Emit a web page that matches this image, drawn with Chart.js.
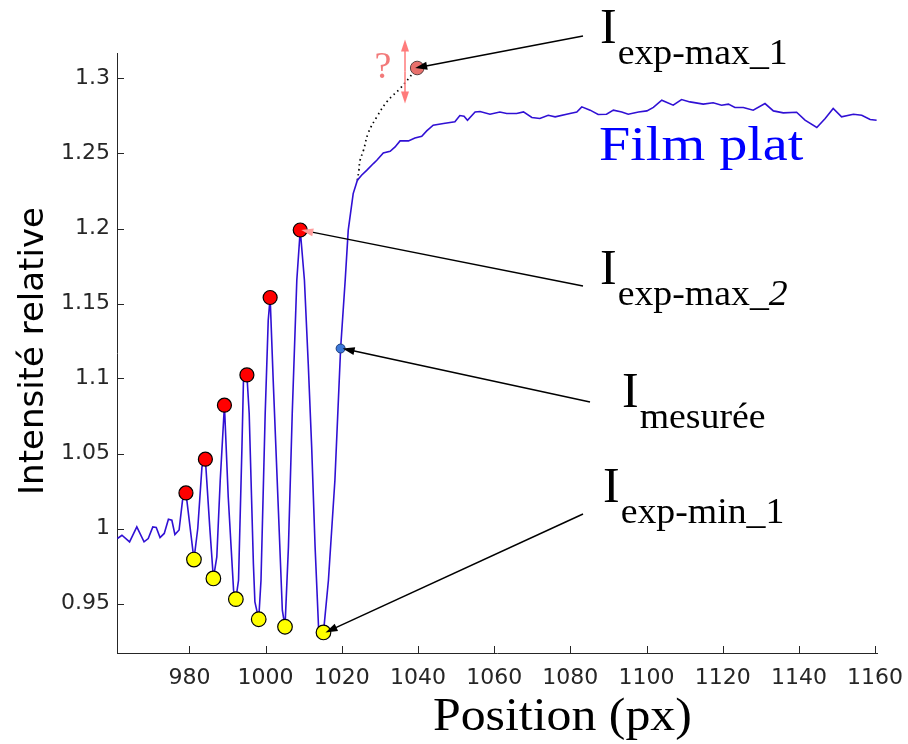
<!DOCTYPE html>
<html>
<head>
<meta charset="utf-8">
<script src="https://cdn.jsdelivr.net/npm/chart.js@4.4.1/dist/chart.umd.min.js"></script>
<style>
  html, body { margin: 0; padding: 0; background: #fff; }
</style>
</head>
<body>
<canvas id="chart" width="908" height="744"></canvas>
<script>
// measured intensity profile (position in px, relative intensity)
const profileX = [
  961.1, 962.3, 964.3, 966.2, 968.1, 969.2, 970.4, 971.3, 972.3, 973.4,
  974.5, 975.4, 976.2, 977.3, 978.2, 979.1, 981.2, 982.2, 983.3, 984.2,
  985.4, 986.3, 987.2, 988.1, 989.2, 990.2, 991.6, 992.2, 992.9, 993.8,
  994.2, 995.1, 995.7, 996.8, 997.2, 998.2, 998.8, 999.9, 1000.7, 1001.2,
  1002.0, 1003.4, 1004.4, 1005.1, 1006.0, 1007.0, 1008.2, 1009.1, 1010.2, 1011.2,
  1012.1, 1013.0, 1013.9, 1015.2, 1016.5, 1018.2, 1019.7, 1020.9, 1021.7, 1023.0,
  1024.1, 1025.2, 1026.6, 1028.3, 1029.2, 1030.9, 1032.7, 1034.0, 1035.3, 1037.5,
  1039.2, 1041.0, 1042.3, 1044.0, 1046.7, 1049.7, 1051.0, 1052.1, 1053.0, 1055.0,
  1056.3, 1058.9, 1061.5, 1063.3, 1065.9, 1067.7, 1069.9, 1072.0, 1074.2, 1076.0,
  1079.9, 1081.7, 1083.0, 1085.2, 1087.3, 1089.5, 1091.3, 1093.5, 1095.2, 1097.9,
  1100.1, 1101.8, 1104.0, 1107.0, 1109.2, 1111.4, 1114.9, 1117.5, 1119.7, 1121.5,
  1123.2, 1125.4, 1128.0, 1131.1, 1133.3, 1135.9, 1139.4, 1141.6, 1144.7, 1146.9,
  1149.0, 1151.2, 1154.3, 1156.5, 1158.7, 1160.4
];
const profileY = [
  0.9933, 0.9955, 0.9911, 1.0011, 0.9911, 0.9933, 1.0011, 1.0007, 0.9940, 0.9967,
  1.0062, 1.0055, 0.9960, 0.9990, 1.0188, 1.0237, 0.9793, 1.0000, 1.0410, 1.0462,
  0.9989, 0.9667, 0.9810, 1.0322, 1.0822, 1.0210, 0.9589, 0.9529, 0.9655, 1.0544,
  1.0989, 1.1024, 1.0767, 0.9767, 0.9510, 0.9395, 0.9655, 1.0767, 1.1389, 1.1540,
  1.0989, 1.0100, 0.9455, 0.9345, 0.9877, 1.0767, 1.1655, 1.1990, 1.1655, 1.1100,
  1.0544, 0.9877, 0.9345, 0.9307, 0.9655, 1.0322, 1.1200, 1.1655, 1.1989, 1.2233,
  1.2322, 1.2355, 1.2389, 1.2433, 1.2455, 1.2504, 1.2515, 1.2544, 1.2584, 1.2584,
  1.2604, 1.2615, 1.2651, 1.2689, 1.2700, 1.2711, 1.2753, 1.2749, 1.2722, 1.2777,
  1.2780, 1.2762, 1.2777, 1.2767, 1.2767, 1.2777, 1.2740, 1.2733, 1.2755, 1.2744,
  1.2767, 1.2777, 1.2811, 1.2789, 1.2760, 1.2762, 1.2789, 1.2777, 1.2762, 1.2777,
  1.2784, 1.2807, 1.2855, 1.2822, 1.2860, 1.2844, 1.2829, 1.2838, 1.2822, 1.2829,
  1.2807, 1.2807, 1.2789, 1.2833, 1.2784, 1.2771, 1.2775, 1.2722, 1.2673, 1.2733,
  1.2800, 1.2744, 1.2762, 1.2755, 1.2727, 1.2722
];

// fringe maxima (red) and minima (yellow)
const maxX = [979.1, 984.2, 989.2, 995.1, 1001.2, 1009.1];
const maxY = [1.0237, 1.0462, 1.0822, 1.1024, 1.1540, 1.1990];
const minX = [981.2, 986.3, 992.2, 998.2, 1005.1, 1015.2];
const minY = [0.9793, 0.9667, 0.9529, 0.9395, 0.9345, 0.9307];

// measured point and extrapolated first maximum
const measuredX = [1019.7];
const measuredY = [1.1200];
const extrapX = [1039.8];
const extrapY = [1.3070];

// dotted extrapolation towards the first maximum
const guessX = [1024.1, 1024.5, 1024.8, 1025.7, 1027.0, 1029.2, 1032.0, 1035.3, 1039.8];
const guessY = [1.2321, 1.2389, 1.2455, 1.2521, 1.2640, 1.2744, 1.2850, 1.2933, 1.3070];

// uncertainty arrow (x, y from, y to)
const doubtX = 1036.6;
const doubtY = [1.3260, 1.2833];

const xTicks = [980, 1000, 1020, 1040, 1060, 1080, 1100, 1120, 1140, 1160];
const yTicks = [0.95, 1, 1.05, 1.1, 1.15, 1.2, 1.25, 1.3];

const toPoints = (xs, ys) => xs.map((v, i) => ({ x: v, y: ys[i] }));

const AXIS = '#262626';
const SERIF = '"Liberation Serif", "DejaVu Serif", serif';

function arrow(ctx, x0, y0, x1, y1, lineColor, headColor, width) {
  const a = Math.atan2(y1 - y0, x1 - x0);
  const len = 12, half = 4;
  ctx.strokeStyle = lineColor;
  ctx.lineWidth = width || 1.5;
  ctx.beginPath();
  ctx.moveTo(x0, y0);
  ctx.lineTo(x1 - Math.cos(a) * len * 0.7, y1 - Math.sin(a) * len * 0.7);
  ctx.stroke();
  ctx.fillStyle = headColor;
  ctx.beginPath();
  ctx.moveTo(x1, y1);
  ctx.lineTo(x1 - len * Math.cos(a) + half * Math.sin(a), y1 - len * Math.sin(a) - half * Math.cos(a));
  ctx.lineTo(x1 - len * Math.cos(a) - half * Math.sin(a), y1 - len * Math.sin(a) + half * Math.cos(a));
  ctx.closePath();
  ctx.fill();
}

// the figure uses a wide garamond-like face; stretch Liberation Serif a bit
function wideText(ctx, text, x, y, stretch) {
  ctx.save();
  ctx.translate(x, y);
  ctx.scale(stretch, 1);
  ctx.fillText(text, 0, 0);
  const w = ctx.measureText(text).width * stretch;
  ctx.restore();
  return w;
}

// "I" with a subscript, like the LaTeX labels of the figure
function intensityLabel(ctx, x, base, parts) {
  ctx.fillStyle = '#000';
  ctx.textAlign = 'left';
  ctx.textBaseline = 'alphabetic';
  ctx.font = '50px ' + SERIF;
  ctx.fillText('I', x, base);
  let sx = x + ctx.measureText('I').width + 1;
  parts.forEach(p => {
    ctx.font = (p.italic ? 'italic ' : '') + '35px ' + SERIF;
    sx += wideText(ctx, p.text, sx, base + 21, 1.08);
  });
}

const annotations = {
  id: 'annotations',
  afterDatasetsDraw(chart) {
    const { ctx, scales: { x, y } } = chart;
    ctx.save();

    // inward tick marks, matlab style
    ctx.strokeStyle = AXIS;
    ctx.lineWidth = 1;
    xTicks.forEach(v => {
      const px = Math.round(x.getPixelForValue(v)) + 0.5;
      ctx.beginPath();
      ctx.moveTo(px, y.bottom);
      ctx.lineTo(px, y.bottom - 7);
      ctx.stroke();
    });
    yTicks.forEach(v => {
      const py = Math.round(y.getPixelForValue(v)) + 0.5;
      ctx.beginPath();
      ctx.moveTo(x.left, py);
      ctx.lineTo(x.left + 7, py);
      ctx.stroke();
    });

    // uncertainty on the first maximum
    const dx = x.getPixelForValue(doubtX);
    const dTop = y.getPixelForValue(doubtY[0]);
    const dBot = y.getPixelForValue(doubtY[1]);
    const mid = (dTop + dBot) / 2;
    arrow(ctx, dx, mid, dx, dTop, '#ff7b7b', '#ff7b7b', 1.5);
    arrow(ctx, dx, mid, dx, dBot, '#ff7b7b', '#ff7b7b', 1.5);
    ctx.fillStyle = '#f27a7a';
    ctx.font = '38px ' + SERIF;
    ctx.textAlign = 'center';
    ctx.textBaseline = 'alphabetic';
    ctx.fillText('?', dx - 22, 78);

    // pointers to the marked values
    arrow(ctx, 583, 36, x.getPixelForValue(extrapX[0]) - 2, y.getPixelForValue(extrapY[0]), '#000', '#000');
    arrow(ctx, 583, 286, x.getPixelForValue(maxX[5]) + 1, y.getPixelForValue(maxY[5]), '#000', '#ff9d9d');
    arrow(ctx, 590, 402, x.getPixelForValue(measuredX[0]) + 2, y.getPixelForValue(measuredY[0]), '#000', '#000');
    arrow(ctx, 583, 514, x.getPixelForValue(minX[5]) + 2, y.getPixelForValue(minY[5]), '#000', '#000');

    intensityLabel(ctx, 600, 43, [{ text: 'exp-max_1' }]);
    intensityLabel(ctx, 600, 284, [{ text: 'exp-max_' }, { text: '2', italic: true }]);
    intensityLabel(ctx, 622, 407, [{ text: 'mesurée' }]);
    intensityLabel(ctx, 603, 502, [{ text: 'exp-min_1' }]);

    ctx.fillStyle = '#0000ff';
    ctx.font = '48px ' + SERIF;
    ctx.textAlign = 'left';
    wideText(ctx, 'Film plat', 599, 160, 1.17);

    // axis titles
    ctx.fillStyle = '#000';
    ctx.font = '47px ' + SERIF;
    ctx.textAlign = 'left';
    wideText(ctx, 'Position (px)', 433, 730, 1.06);

    ctx.save();
    ctx.translate(43, 351);
    ctx.rotate(-Math.PI / 2);
    ctx.fillStyle = '#000';
    ctx.font = '34px "DejaVu Sans", sans-serif';
    ctx.textAlign = 'center';
    ctx.textBaseline = 'alphabetic';
    ctx.fillText('Intensité relative', 0, 0);
    ctx.restore();

    ctx.restore();
  }
};

new Chart(document.getElementById('chart'), {
  type: 'line',
  data: {
    datasets: [
      {
        label: 'I mesurée',
        data: toPoints(measuredX, measuredY),
        showLine: false,
        pointRadius: 4.5,
        pointBackgroundColor: '#3c78d8',
        pointBorderColor: '#1c3c7c',
        pointBorderWidth: 1
      },
      {
        label: 'maxima',
        data: toPoints(maxX, maxY),
        showLine: false,
        pointRadius: 7,
        pointBackgroundColor: '#ff0000',
        pointBorderColor: '#000',
        pointBorderWidth: 1.2
      },
      {
        label: 'minima',
        data: toPoints(minX, minY),
        showLine: false,
        pointRadius: 7.3,
        pointBackgroundColor: '#ffff00',
        pointBorderColor: '#000',
        pointBorderWidth: 1.2
      },
      {
        label: 'I exp-max_1',
        data: toPoints(extrapX, extrapY),
        showLine: false,
        pointRadius: 6.8,
        pointBackgroundColor: '#e8706c',
        pointBorderColor: '#5a4040',
        pointBorderWidth: 1,
        clip: false
      },
      {
        label: 'profil',
        data: toPoints(profileX, profileY),
        borderColor: '#3010d4',
        borderWidth: 1.6,
        pointRadius: 0,
        tension: 0
      },
      {
        label: 'extrapolation',
        data: toPoints(guessX, guessY),
        borderColor: '#000',
        borderWidth: 1.7,
        borderDash: [1.5, 3.5],
        pointRadius: 0,
        tension: 0.4
      }
    ]
  },
  options: {
    responsive: false,
    animation: false,
    devicePixelRatio: 1,
    layout: { padding: { left: 0, right: 31, top: 53, bottom: 0 } },
    plugins: {
      legend: { display: false },
      tooltip: { enabled: false }
    },
    scales: {
      x: {
        type: 'linear',
        min: 961,
        max: 1160.5,
        afterBuildTicks: s => { s.ticks = xTicks.map(v => ({ value: v })); },
        afterFit: s => { s.height = 91; s.paddingLeft = 0; s.paddingRight = 0; },
        grid: { display: false, drawTicks: false },
        border: { color: AXIS, width: 1 },
        ticks: {
          color: AXIS,
          font: { family: 'DejaVu Sans', size: 22 },
          padding: 12,
          maxRotation: 0,
          autoSkip: false,
          callback: v => String(v)
        }
      },
      y: {
        type: 'linear',
        min: 0.917,
        max: 1.317,
        afterBuildTicks: s => { s.ticks = yTicks.map(v => ({ value: v })); },
        afterFit: s => { s.width = 117; s.paddingTop = 0; s.paddingBottom = 0; },
        grid: { display: false, drawTicks: false },
        border: { color: AXIS, width: 1 },
        ticks: {
          color: AXIS,
          font: { family: 'DejaVu Sans', size: 22 },
          padding: 7,
          autoSkip: false,
          callback: v => String(+v.toFixed(2))
        }
      }
    }
  },
  plugins: [annotations]
});
</script>
</body>
</html>
